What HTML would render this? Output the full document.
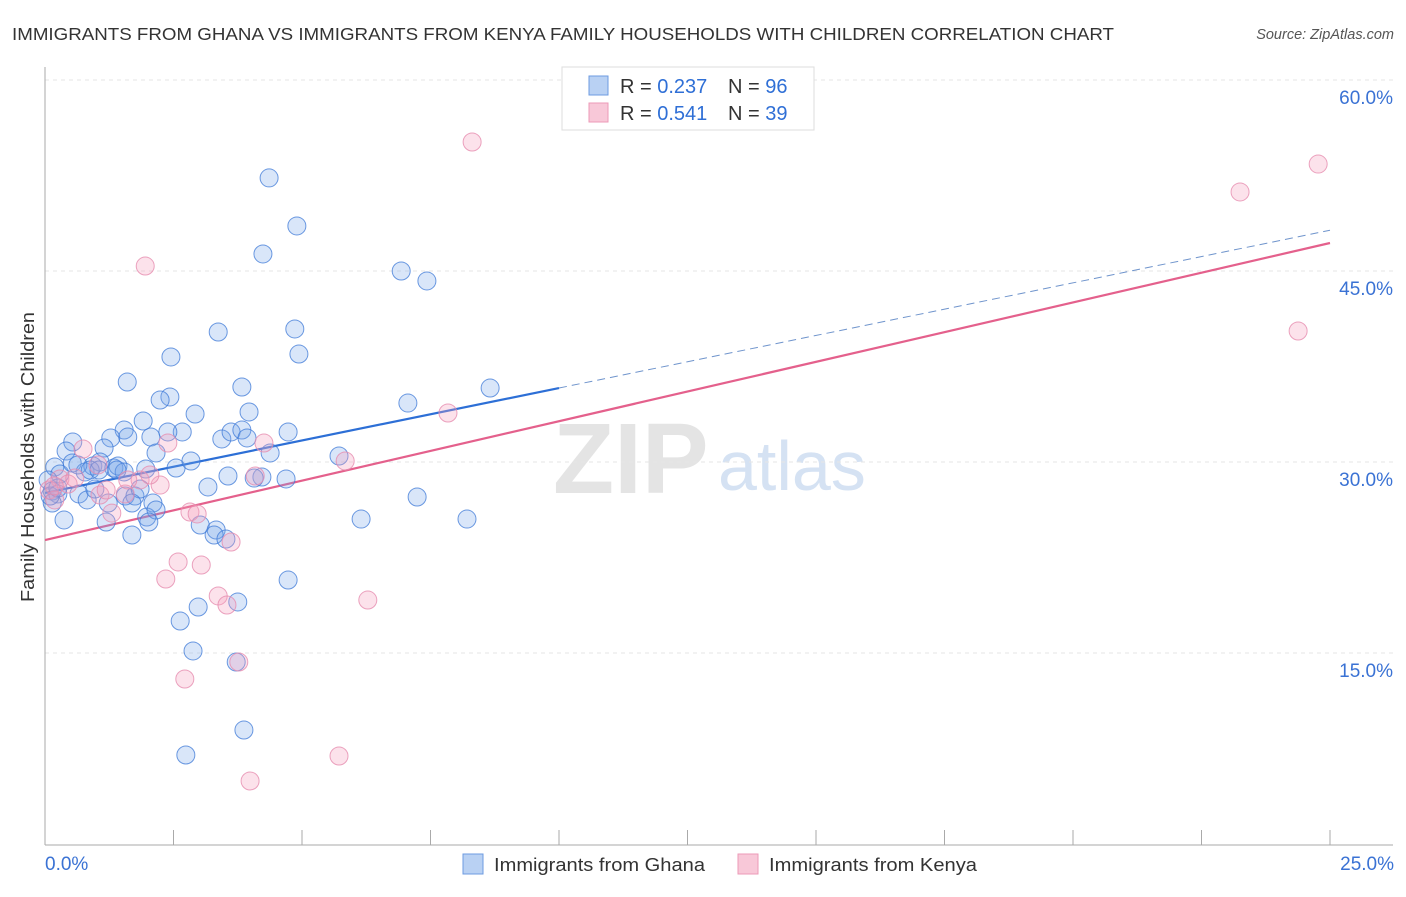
<!DOCTYPE html>
<html><head><meta charset="utf-8"><style>
body{margin:0;background:#fff;font-family:"Liberation Sans",sans-serif;}
svg text{font-family:"Liberation Sans",sans-serif;}
</style></head><body>
<svg id="chart" width="1406" height="892" viewBox="0 0 1406 892">
<text x="12" y="40" font-size="17.5" fill="#333" textLength="1102" lengthAdjust="spacingAndGlyphs">IMMIGRANTS FROM GHANA VS IMMIGRANTS FROM KENYA FAMILY HOUSEHOLDS WITH CHILDREN CORRELATION CHART</text>
<text x="1394" y="39" font-size="14.5" fill="#555" font-style="italic" text-anchor="end">Source: ZipAtlas.com</text>
<g>
<text x="553" y="493" font-size="100" fill="#e4e4e4" font-family="Liberation Serif,serif" font-weight="bold">ZIP</text>
<text x="718" y="490" font-size="70" fill="#d5e2f3">atlas</text>
</g>
<g id="grid"></g>
<g id="axes"></g>
<g id="lines"></g>
<g id="pts"></g>
<g>
<rect x="562" y="67" width="252" height="63" fill="#fff" stroke="#ddd"/>
<rect x="589" y="76" width="19" height="19" fill="#b9d1f3" stroke="#6d9be0"/>
<rect x="589" y="103" width="19" height="19" fill="#f8c8d8" stroke="#ec9ab7"/>
<text x="620" y="93" font-size="20" fill="#333">R = <tspan fill="#2f6fd6">0.237</tspan><tspan x="728">N = </tspan><tspan fill="#2f6fd6">96</tspan></text>
<text x="620" y="120" font-size="20" fill="#333">R = <tspan fill="#2f6fd6">0.541</tspan><tspan x="728">N = </tspan><tspan fill="#2f6fd6">39</tspan></text>
</g>
<g>
<rect x="463" y="854" width="20" height="20" fill="#b9d1f3" stroke="#6d9be0"/>
<text x="494" y="871" font-size="18" fill="#333" textLength="211" lengthAdjust="spacingAndGlyphs">Immigrants from Ghana</text>
<rect x="738" y="854" width="20" height="20" fill="#f8c8d8" stroke="#ec9ab7"/>
<text x="769" y="871" font-size="18" fill="#333" textLength="208" lengthAdjust="spacingAndGlyphs">Immigrants from Kenya</text>
</g>
<text transform="translate(34,457) rotate(-90)" font-size="18" fill="#333" text-anchor="middle" textLength="290" lengthAdjust="spacingAndGlyphs">Family Households with Children</text>
</svg>
<script>
const ghanaX=[4.36,4.90,4.24,6.93,7.43,3.37,4.86,2.45,4.94,1.60,3.83,8.66,2.43,2.24,7.06,2.92,3.97,1.91,1.54,1.28,2.67,1.61,2.06,2.39,3.44,3.62,3.83,3.93,4.73,0.54,0.41,1.15,2.16,4.38,5.72,0.19,0.29,0.53,0.78,0.93,1.07,1.34,1.42,1.54,1.96,2.55,2.84,3.56,4.22,4.07,4.69,0.06,0.14,0.25,0.66,0.82,0.97,1.56,1.75,1.85,3.17,2.10,1.69,1.23,0.14,0.37,1.98,2.16,2.02,1.19,1.69,6.15,8.21,7.24,3.02,3.33,3.29,3.52,4.73,3.75,2.98,2.63,2.88,3.72,3.87,2.74,0.10,0.25,0.64,1.40,0.88,1.05];
const ghanaY=[52.31,48.54,46.34,45.00,44.22,40.21,40.45,38.25,38.48,36.28,35.89,35.81,35.11,34.87,34.63,33.77,33.93,33.22,32.51,31.89,32.36,31.96,31.96,32.36,31.81,32.36,32.51,31.89,32.36,31.57,30.86,31.10,30.71,30.71,30.47,29.61,29.06,29.92,29.22,29.69,30.00,29.53,29.69,29.22,29.45,29.53,30.08,28.90,28.82,28.74,28.67,28.59,27.72,27.49,27.49,27.02,27.88,27.33,27.33,27.88,28.04,26.78,26.78,26.78,26.78,25.45,25.68,26.23,25.29,25.29,24.27,25.52,25.52,27.25,25.05,24.66,24.27,23.95,20.73,19.01,18.61,17.51,15.16,14.29,8.95,6.99,27.33,27.96,29.77,29.37,29.37,29.37];
const kenyaX=[8.31,24.77,23.25,24.38,1.95,7.84,0.74,2.39,4.26,5.84,0.29,0.45,0.58,0.08,0.19,1.07,1.56,1.85,2.24,1.30,2.82,2.96,3.62,2.59,2.35,3.04,3.37,3.54,6.28,3.77,2.72,5.72,3.99,1.03,1.19,0.18,1.61,2.04,4.09];
const kenyaY=[55.13,53.40,51.21,40.29,45.39,33.85,31.02,31.49,31.49,30.08,28.67,28.27,28.74,27.80,27.02,27.41,27.49,28.59,28.19,25.99,26.07,25.92,23.72,22.15,20.81,21.91,19.48,18.77,19.16,14.29,12.96,6.91,4.95,29.77,27.80,28.12,28.59,28.98,28.90];
const yTicks=[15,30,45,60];
const yTickLabels=["15.0%","30.0%","45.0%","60.0%"];
const xTicks=[0,2.5,5,7.5,10,12.5,15,17.5,20,22.5,25];
const xEndLabels=["0.0%","25.0%"];
const ghanaTrend=[27.57,35.81,48.2];
const kenyaTrend=[23.87,47.2];

const NS="http://www.w3.org/2000/svg";
const X=v=>45+v*51.4, Y=v=>844-v*12.733;
function mk(tag,attrs,parent){const e=document.createElementNS(NS,tag);for(const k in attrs)e.setAttribute(k,attrs[k]);document.getElementById(parent).appendChild(e);return e;}
yTicks.forEach((t,i)=>{
  const l=mk('line',{x1:45,x2:1393,y1:Y(t),y2:Y(t),stroke:'#e6e6e6','stroke-dasharray':'4,4'},'grid');
  
  
  const tx=mk('text',{x:1393,y:Y(t)+24,'font-size':19,fill:'#3a72d4','text-anchor':'end'},'grid');
  tx.textContent=yTickLabels[i];
  
  
});
const ax=mk('line',{x1:45,x2:45,y1:67,y2:845,stroke:'#aaa'},'axes');


const bx=mk('line',{x1:45,x2:1393,y1:845,y2:845,stroke:'#aaa'},'axes');


xTicks.forEach(t=>{
  const l=mk('line',{x1:X(t),x2:X(t),y1:830,y2:845,stroke:'#aaa'},'axes');
  
  
});
const xl0=mk('text',{x:45,y:870,'font-size':19,fill:'#3a72d4'},'axes');xl0.textContent=xEndLabels[0];


const xl1=mk('text',{x:1394,y:870,'font-size':19,fill:'#3a72d4','text-anchor':'end'},'axes');xl1.textContent=xEndLabels[1];



const t1=mk('line',{x1:X(0),y1:Y(ghanaTrend[0]),x2:X(10),y2:Y(ghanaTrend[1]),stroke:'#2d6fd6','stroke-width':2.2},'lines');


const t2=mk('line',{x1:X(10),y1:Y(ghanaTrend[1]),x2:X(25),y2:Y(ghanaTrend[2]),stroke:'#6f94cc','stroke-width':1,'stroke-dasharray':'8,5'},'lines');


const t3=mk('line',{x1:X(0),y1:Y(kenyaTrend[0]),x2:X(25),y2:Y(kenyaTrend[1]),stroke:'#e4608c','stroke-width':2.2},'lines');



ghanaX.forEach((v,i)=>{
  const c=mk('circle',{cx:X(v),cy:Y(ghanaY[i]),r:9,fill:'rgba(120,165,235,0.28)',stroke:'rgba(60,120,215,0.75)','stroke-width':1},'pts');
  
  
});
kenyaX.forEach((v,i)=>{
  const c=mk('circle',{cx:X(v),cy:Y(kenyaY[i]),r:9,fill:'rgba(245,160,190,0.3)',stroke:'rgba(230,140,175,0.8)','stroke-width':1},'pts');
  
  
});
</script>
</body></html>
